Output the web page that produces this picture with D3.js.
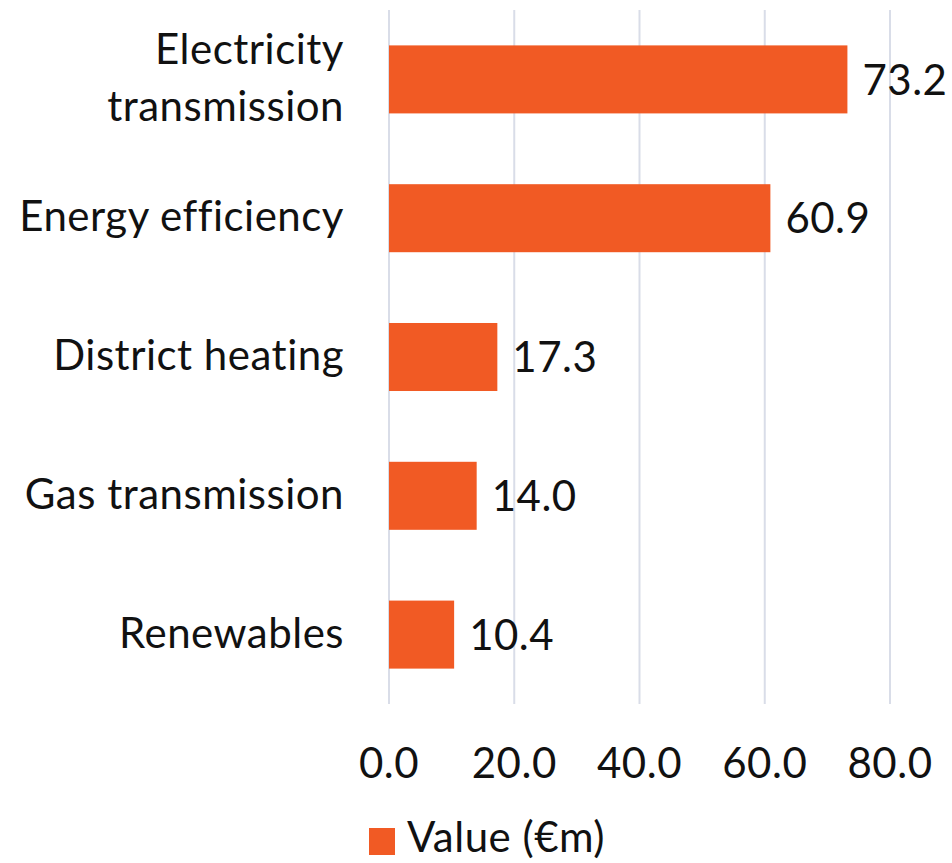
<!DOCTYPE html>
<html lang="en">
<head>
  <meta charset="utf-8">
  <title>Value by sector</title>
  <script type="text/javascript" src="https://d3js.org/d3.v7.min.js"></script>
  <style type="text/css">
    body { margin: 0; background: #fff; }
    text { font-family: Lato, "Open Sans", sans-serif; font-size: 42px; fill: #111; letter-spacing: 0.5px; }
  </style>
</head>
<body>
  <script type="text/javascript">
    var categories = [["Electricity", "transmission"], ["Energy efficiency"], ["District heating"], ["Gas transmission"], ["Renewables"]];
    var values = [73.2, 60.9, 17.3, 14.0, 10.4];
    var xTicks = [0, 20, 40, 60, 80];
    var seriesName = "Value (€m)";

    var width = 952, height = 863;
    var plotLeft = 389, plotRight = 890, plotTop = 10, plotBottom = 704;

    var svg = d3.select("body").append("svg")
                .attr("width", width)
                .attr("height", height);

    var x = d3.scaleLinear().domain([0, 80]).range([plotLeft, plotRight]);
    var y = d3.scaleBand().domain(d3.range(categories.length))
              .range([plotTop, plotBottom]).paddingInner(0.51).paddingOuter(0.255);

    // gridlines
    svg.append("g").selectAll("line")
       .data(xTicks)
       .enter().append("line")
       .attr("x1", d => x(d)).attr("x2", d => x(d))
       .attr("y1", plotTop).attr("y2", plotBottom)
       .style("stroke", "#d9dde8")
       .style("stroke-width", 2);

    // bars
    svg.append("g").selectAll("rect")
       .data(values)
       .enter().append("rect")
       .attr("x", x(0))
       .attr("y", (d, i) => y(i))
       .attr("width", d => x(d) - x(0))
       .attr("height", y.bandwidth())
       .style("fill", "#f15a24");

    // value labels
    svg.append("g").selectAll("text")
       .data(values)
       .enter().append("text")
       .attr("x", d => x(d) + 15)
       .attr("y", (d, i) => y(i) + y.bandwidth() / 2)
       .attr("dy", "0.36em")
       .text(d => d.toFixed(1));

    // category labels
    var cats = svg.append("g");
    categories.forEach(function(lines, i) {
      var cy = y(i) + y.bandwidth() / 2;
      lines.forEach(function(l, j) {
        cats.append("text")
            .attr("x", 344)
            .attr("y", cy + (j - (lines.length - 1) / 2) * 57 - 2)
            .attr("dy", "0.36em")
            .attr("text-anchor", "end")
            .text(l);
      });
    });

    // x axis tick labels
    svg.append("g").selectAll("text")
       .data(xTicks)
       .enter().append("text")
       .attr("x", d => x(d))
       .attr("y", 763)
       .attr("dy", "0.36em")
       .attr("text-anchor", "middle")
       .text(d => d.toFixed(1));

    // legend
    var legend = svg.append("g");
    legend.append("rect")
          .attr("x", 369).attr("y", 828)
          .attr("width", 26).attr("height", 27)
          .style("fill", "#f15a24");
    legend.append("text")
          .attr("x", 407).attr("y", 837)
          .attr("dy", "0.36em")
          .text(seriesName);
  </script>
</body>
</html>
